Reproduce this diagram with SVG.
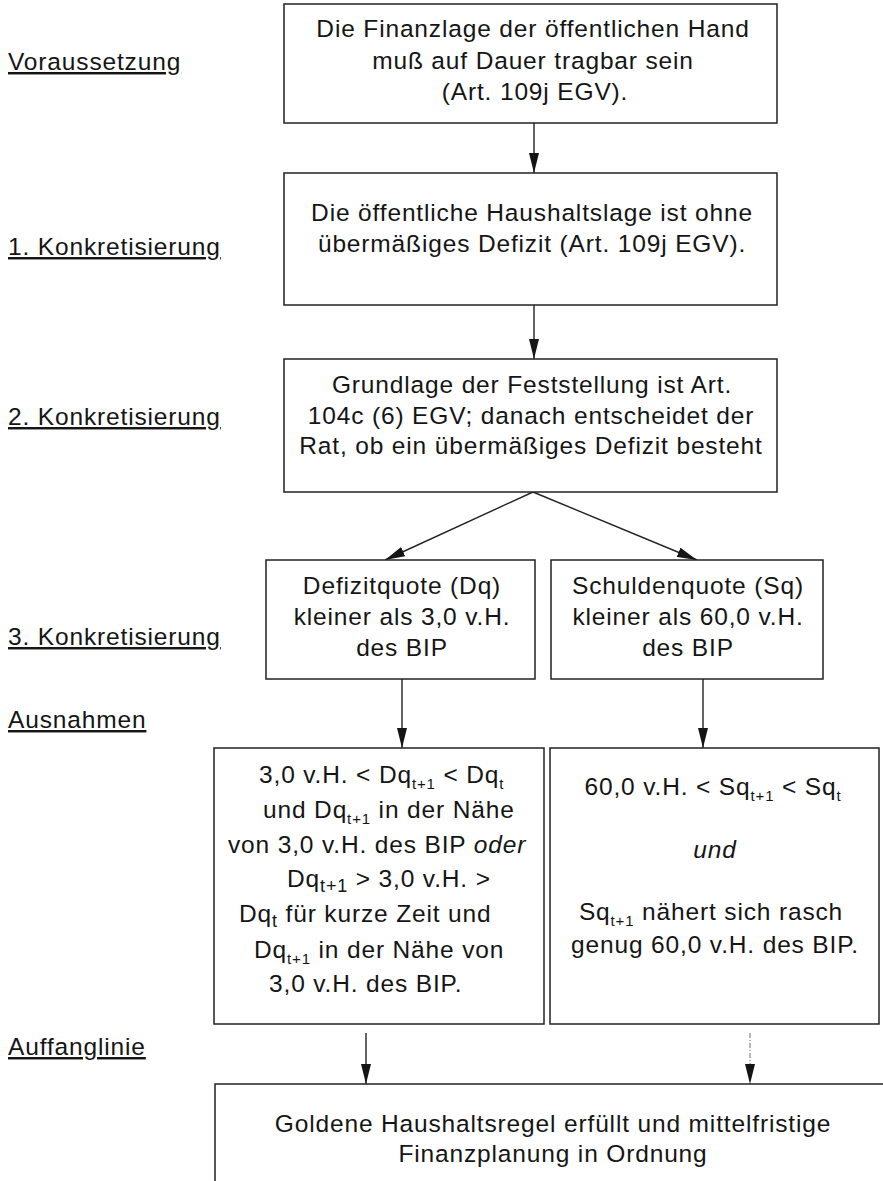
<svg xmlns="http://www.w3.org/2000/svg" width="883" height="1181" viewBox="0 0 883 1181">
<defs>
<style>
.t{font-family:"Liberation Sans",Arial,Helvetica,sans-serif;font-size:24.5px;letter-spacing:0.85px;fill:#151515}
.c{text-anchor:middle}
.lbl{text-decoration:underline}
.box{fill:#fff;stroke:#222;stroke-width:1.5}
.con{stroke:#222;stroke-width:1.4;fill:none;marker-end:url(#ah)}
.dash{stroke:#888;stroke-width:1.2;fill:none;stroke-dasharray:5 2 1 2;marker-end:url(#ah)}
.s{font-size:15px}
.s2{font-size:18px}
.i{font-style:italic}
</style>
<marker id="ah" markerUnits="userSpaceOnUse" markerWidth="20" markerHeight="10" refX="20" refY="5" orient="auto">
<path d="M0,0 L20,5 L0,10 Z" fill="#151515"/>
</marker>
</defs>
<rect width="883" height="1181" fill="#fff"/>

<g id="labels">
<text class="t lbl" x="8" y="70">Voraussetzung</text>
<text class="t lbl" x="8" y="255">1. Konkretisierung</text>
<text class="t lbl" x="8" y="425">2. Konkretisierung</text>
<text class="t lbl" x="8" y="645">3. Konkretisierung</text>
<text class="t lbl" x="8" y="728">Ausnahmen</text>
<text class="t lbl" x="8" y="1055">Auffanglinie</text>
</g>

<g id="connectors">
<line class="con" x1="534" y1="123" x2="534" y2="173"/>
<line class="con" x1="534" y1="305" x2="534" y2="359"/>
<line class="con" x1="533" y1="492" x2="385" y2="560"/>
<line class="con" x1="533" y1="492" x2="697" y2="560"/>
<line class="con" x1="402" y1="679" x2="402" y2="748"/>
<line class="con" x1="703" y1="679" x2="703" y2="748"/>
<line class="con" x1="366" y1="1033" x2="366" y2="1084"/>
<line class="dash" x1="750" y1="1033" x2="750" y2="1084"/>
</g>

<g id="n1">
<rect class="box" x="284" y="4" width="493" height="119"/>
<text class="t c" x="533" y="37">Die Finanzlage der öffentlichen Hand</text>
<text class="t c" x="533" y="69">muß auf Dauer tragbar sein</text>
<text class="t c" x="535" y="100">(Art. 109j EGV).</text>
</g>

<g id="n2">
<rect class="box" x="284" y="173" width="493" height="132"/>
<text class="t c" x="532" y="221">Die öffentliche Haushaltslage ist ohne</text>
<text class="t c" x="532" y="252">übermäßiges Defizit (Art. 109j EGV).</text>
</g>

<g id="n3">
<rect class="box" x="284" y="359" width="493" height="133"/>
<text class="t c" x="532" y="393">Grundlage der Feststellung ist Art.</text>
<text class="t c" x="531" y="424">104c (6) EGV; danach entscheidet der</text>
<text class="t c" x="531" y="454">Rat, ob ein übermäßiges Defizit besteht</text>
</g>

<g id="n4a">
<rect class="box" x="266" y="560" width="269" height="119"/>
<text class="t c" x="402" y="594">Defizitquote (Dq)</text>
<text class="t c" x="402" y="625">kleiner als 3,0 v.H.</text>
<text class="t c" x="402" y="656">des BIP</text>
</g>

<g id="n4b">
<rect class="box" x="551" y="560" width="272" height="119"/>
<text class="t c" x="688" y="594">Schuldenquote (Sq)</text>
<text class="t c" x="688" y="625">kleiner als 60,0 v.H.</text>
<text class="t c" x="688" y="656">des BIP</text>
</g>

<g id="n5a">
<rect class="box" x="214" y="748" width="330" height="276"/>
<text class="t" x="259" y="783">3,0 v.H. &lt; Dq<tspan class="s" dy="6">t+1</tspan><tspan dy="-6">  &lt; Dq</tspan><tspan class="s" dy="6">t</tspan></text>
<text class="t" x="263" y="818">und  Dq<tspan class="s" dy="6">t+1</tspan><tspan dy="-6">  in der Nähe</tspan></text>
<text class="t" x="228" y="853">von 3,0 v.H. des BIP <tspan class="i">oder</tspan></text>
<text class="t" x="287" y="887">Dq<tspan class="s2" dy="5">t+1</tspan><tspan dy="-5"> &gt; 3,0 v.H. &gt;</tspan></text>
<text class="t" x="239" y="922">Dq<tspan class="s2" dy="5">t</tspan><tspan dy="-5">  für kurze Zeit und</tspan></text>
<text class="t" x="254" y="958">Dq<tspan class="s" dy="6">t+1</tspan><tspan dy="-6">  in der Nähe von</tspan></text>
<text class="t" x="269" y="992">3,0 v.H. des BIP.</text>
</g>

<g id="n5b">
<rect class="box" x="550" y="748" width="329" height="276"/>
<text class="t c" x="713" y="795">60,0 v.H. &lt; Sq<tspan class="s" dy="6">t+1</tspan><tspan dy="-6">  &lt; Sq</tspan><tspan class="s" dy="6">t</tspan></text>
<text class="t c i" x="715" y="858">und</text>
<text class="t c" x="711" y="920">Sq<tspan class="s" dy="6">t+1</tspan><tspan dy="-6">  nähert sich rasch</tspan></text>
<text class="t c" x="715" y="953">genug 60,0 v.H. des BIP.</text>
</g>

<g id="n6">
<rect class="box" x="215" y="1084" width="720" height="150"/>
<text class="t c" x="553" y="1132">Goldene Haushaltsregel erfüllt und mittelfristige</text>
<text class="t c" x="553" y="1162">Finanzplanung in Ordnung</text>
</g>
</svg>
